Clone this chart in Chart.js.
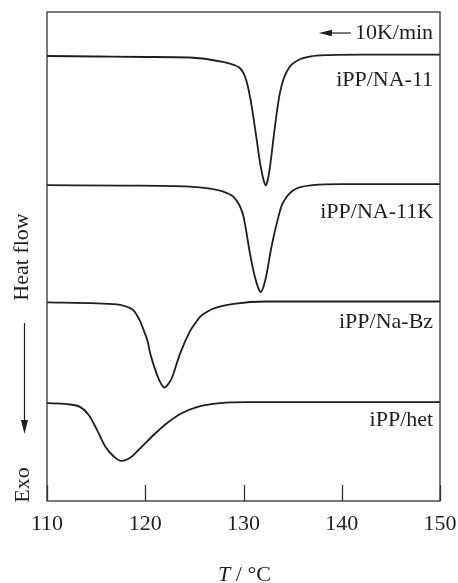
<!DOCTYPE html>
<html>
<head>
<meta charset="utf-8">
<script src="https://cdn.jsdelivr.net/npm/chart.js@4/dist/chart.umd.min.js"></script>
<style>
  html, body { margin: 0; padding: 0; background: #fff; }
  canvas { display: block; }
</style>
</head>
<body>
<canvas id="dscChart" width="458" height="583"></canvas>
<script>
// x ticks (°C)
const xTicks = [110, 120, 130, 140, 150];

// heat flow curves, arbitrary units (exo down)
const na11Temp = [110, 115, 120, 124.5, 127.9, 129.0, 129.65, 130.0, 130.33, 130.66, 131.0, 131.35, 131.75, 132.05, 132.26, 132.46, 132.7, 133.03, 133.38, 133.7, 134.1, 134.7, 135.6, 136.8, 138.8, 142, 150];
const na11Flow = [91.0, 90.9, 90.8, 90.7, 89.8, 89.2, 88.5, 87.5, 85.7, 82.7, 78.6, 73.8, 68.4, 65.6, 64.5, 65.6, 68.4, 73.8, 79.3, 83.4, 86.4, 88.8, 90.2, 90.9, 91.2, 91.3, 91.3];

const na11kTemp = [110, 118, 124.5, 127.9, 129.0, 129.3, 129.65, 129.95, 130.2, 130.65, 131.15, 131.5, 131.75, 132.0, 132.3, 132.85, 133.55, 133.9, 134.4, 134.85, 135.4, 137.1, 140, 150];
const na11kFlow = [64.6, 64.5, 64.3, 63.3, 62.2, 61.4, 60.2, 58.6, 56.1, 50.7, 45.9, 43.6, 42.7, 43.6, 45.9, 52.0, 58.1, 60.5, 62.2, 63.2, 63.9, 64.6, 64.8, 64.8];

const naBzTemp = [110, 115.1, 117.45, 118.5, 118.85, 119.15, 119.5, 119.85, 120.25, 120.5, 121.2, 121.6, 121.95, 122.3, 122.7, 123.55, 124.6, 125.1, 125.6, 126.3, 127.0, 129.0, 132.4, 140, 150];
const naBzFlow = [40.6, 40.4, 40.1, 39.4, 38.9, 38.0, 36.7, 34.9, 32.6, 30.2, 25.8, 24.0, 23.2, 23.8, 25.1, 30.2, 34.9, 36.4, 37.7, 38.7, 39.4, 40.3, 40.8, 40.8, 40.8];

const hetTemp = [110, 112.05, 113.4, 114.25, 115.1, 115.95, 116.8, 117.55, 118.5, 119.5, 120.85, 122.2, 123.55, 125.25, 127.65, 130.35, 140, 150];
const hetFlow = [20.0, 19.8, 19.2, 17.6, 14.5, 11.1, 9.1, 8.2, 8.9, 10.8, 13.5, 15.9, 17.8, 19.2, 20.0, 20.2, 20.2, 20.2];

const seriesNames = ["iPP/NA-11", "iPP/NA-11K", "iPP/Na-Bz", "iPP/het"];
const rateLabel = "10K/min";

const SERIF = '"Liberation Serif", "DejaVu Serif", serif';
const INK = "#1e1e1e";

function toPoints(temps, flows) {
  return temps.map((t, i) => ({ x: t, y: flows[i] }));
}

function makeSeries(label, temps, flows) {
  return {
    label,
    data: toPoints(temps, flows),
    borderColor: INK,
    borderWidth: 1.8,
    pointRadius: 0,
    fill: false,
    cubicInterpolationMode: "monotone",
  };
}

// frame, inward ticks, labels and annotations
const decorations = {
  id: "decorations",
  afterDraw(chart) {
    const { ctx, chartArea: area, scales } = chart;
    const xs = scales.x;
    const ys = scales.y;

    ctx.save();
    ctx.strokeStyle = "#333";
    ctx.lineWidth = 1.3;
    ctx.strokeRect(area.left, area.top, area.right - area.left, area.bottom - area.top);

    // inward tick marks
    ctx.beginPath();
    xTicks.forEach((t) => {
      const px = Math.round(xs.getPixelForValue(t)) + 0.5;
      ctx.moveTo(px, area.bottom);
      ctx.lineTo(px, area.bottom - 16);
    });
    ctx.stroke();

    // tick labels
    ctx.fillStyle = INK;
    ctx.font = `22px ${SERIF}`;
    ctx.textAlign = "center";
    ctx.textBaseline = "middle";
    xTicks.forEach((t) => {
      ctx.fillText(String(t), xs.getPixelForValue(t), area.bottom + 23);
    });

    // x title: T / °C with italic T
    const titleY = area.bottom + 74;
    ctx.textAlign = "left";
    ctx.font = `italic 22px ${SERIF}`;
    const wT = ctx.measureText("T").width;
    ctx.font = `22px ${SERIF}`;
    const rest = " / °C";
    const wR = ctx.measureText(rest).width;
    const cx = (area.left + area.right) / 2 + 1;
    const startX = cx - (wT + wR) / 2;
    ctx.font = `italic 22px ${SERIF}`;
    ctx.fillText("T", startX, titleY);
    ctx.font = `22px ${SERIF}`;
    ctx.fillText(rest, startX + wT, titleY);

    // y title: Heat flow, arrow, Exo
    ctx.save();
    ctx.translate(22, 257);
    ctx.rotate(-Math.PI / 2);
    ctx.textAlign = "center";
    ctx.fillText("Heat flow", 0, 0);
    ctx.restore();

    ctx.save();
    ctx.translate(23, 485);
    ctx.rotate(-Math.PI / 2);
    ctx.textAlign = "center";
    ctx.fillText("Exo", 0, 0);
    ctx.restore();

    ctx.strokeStyle = INK;
    ctx.lineWidth = 1.2;
    ctx.beginPath();
    ctx.moveTo(24.5, 323);
    ctx.lineTo(24.5, 424);
    ctx.stroke();
    ctx.beginPath();
    ctx.moveTo(24.5, 434);
    ctx.lineTo(21, 420);
    ctx.lineTo(28, 420);
    ctx.closePath();
    ctx.fill();

    // curve labels, right aligned near the right border
    const labelX = xs.getPixelForValue(149.3);
    const labelFlows = [86.1, 59.1, 36.6, 16.6];
    ctx.textAlign = "right";
    ctx.font = `22px ${SERIF}`;
    seriesNames.forEach((name, i) => {
      ctx.fillText(name, labelX, ys.getPixelForValue(labelFlows[i]));
    });

    // heating-rate note with left arrow
    const rateY = ys.getPixelForValue(95.7);
    ctx.fillText(rateLabel, labelX, rateY);
    const textW = ctx.measureText(rateLabel).width;
    const arrowEnd = labelX - textW - 4;
    ctx.beginPath();
    ctx.moveTo(arrowEnd, rateY);
    ctx.lineTo(arrowEnd - 22, rateY);
    ctx.stroke();
    ctx.beginPath();
    ctx.moveTo(arrowEnd - 32, rateY);
    ctx.lineTo(arrowEnd - 19, rateY - 3.2);
    ctx.lineTo(arrowEnd - 19, rateY + 3.2);
    ctx.closePath();
    ctx.fill();

    ctx.restore();
  },
};

new Chart(document.getElementById("dscChart"), {
  type: "line",
  data: {
    datasets: [
      makeSeries(seriesNames[0], na11Temp, na11Flow),
      makeSeries(seriesNames[1], na11kTemp, na11kFlow),
      makeSeries(seriesNames[2], naBzTemp, naBzFlow),
      makeSeries(seriesNames[3], hetTemp, hetFlow),
    ],
  },
  options: {
    responsive: false,
    animation: false,
    devicePixelRatio: 1,
    layout: { padding: { left: 47, right: 18, top: 12, bottom: 82 } },
    plugins: {
      legend: { display: false },
      tooltip: { enabled: false },
    },
    scales: {
      x: { type: "linear", min: 110, max: 150, display: false },
      y: { type: "linear", min: 0, max: 100, display: false },
    },
  },
  plugins: [decorations],
});
</script>
</body>
</html>
